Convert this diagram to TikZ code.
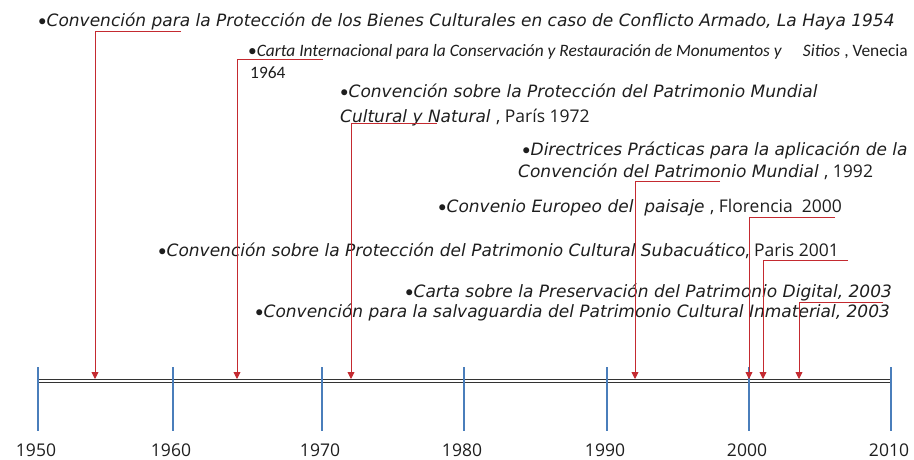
\documentclass[tikz,border=0pt]{standalone}
\usepackage{fontspec}
\usetikzlibrary{arrows.meta}
\newfontfamily\itf{DejaVu Sans}
\newfontfamily\rgf{Open Sans}
\newfontfamily\calf{Carlito}
\definecolor{txt}{HTML}{1E1E1E}
\definecolor{axisc}{HTML}{333333}
\definecolor{tickc}{HTML}{4A7EBB}
\definecolor{arrc}{HTML}{C42A30}
\tikzset{
  lbl/.style={anchor=base west, inner sep=0, text=txt, font=\itf\itshape\fontsize{17}{20}\selectfont},
  lblsmall/.style={anchor=base west, inner sep=0, text=txt, font=\calf\itshape\fontsize{17.4}{20}\selectfont},
  year/.style={anchor=base, inner sep=0, text=txt, font=\rgf\fontsize{17.5}{20}\selectfont},
  tickline/.style={draw=tickc, line width=2.6pt},
  axisline/.style={draw=axisc, line width=1.3pt, double=white, double distance=1.3pt},
  conn/.style={draw=arrc, line width=0.9pt, -{Triangle[length=7pt,width=7pt]}},
}
\newcommand{\rgtext}[1]{{\rgf\upshape\fontsize{17.5}{20}\selectfont #1}}
\newcommand{\bul}{{\calf\upshape •}}
\begin{document}
\begin{tikzpicture}[x=1pt,y=-1pt]
\useasboundingbox (0,0) rectangle (914,460);
% axis
\coordinate (a0) at (38,381);
\coordinate (a1) at (891,381);
\path[axisline] (a0) -- (a1);
% ticks and years
\foreach \x/\yr in {38/1950,173/1960,322/1970,464/1980,607/1990,749/2000,891/2010}{
  \coordinate (t\yr) at (\x,367);
  \coordinate (b\yr) at (\x,431);
  \path[tickline] (t\yr) -- (b\yr);
  \node[year] (y\yr) at (\x-2,456) {\yr};
}
% labels
\node[lbl] (l1) at (38,27) {\bul Convención para la Protección de los Bienes Culturales en caso de Conflicto Armado, La Haya 1954};
\node[lblsmall] (l2) at (248,57) {\bul Carta Internacional para la Conservación y Restauración de Monumentos y\quad\ Sitios\/ {\upshape, Venecia}};
\node[anchor=base west, inner sep=0, text=txt, font=\calf\fontsize{17.4}{20}\selectfont] (l2b) at (250,79) {1964};
\node[lbl] (l3) at (340,98) {\bul Convención sobre la Protección del Patrimonio Mundial};
\node[lbl] (l3b) at (340,122) {Cultural y Natural\/ \rgtext{, París 1972}};
\node[lbl] (l4) at (522,155) {\bul Directrices Prácticas para la aplicación de la};
\node[lbl] (l4b) at (518,177) {Convención del Patrimonio Mundial\/ \rgtext{, 1992}};
\node[lbl] (l5) at (438,212) {\bul Convenio Europeo del\ \ paisaje\/ \rgtext{, Florencia\ \ 2000}};
\node[lbl] (l6) at (158,256) {\bul Convención sobre la Protección del Patrimonio Cultural Subacuático\rgtext{, Paris 2001}};
\node[lbl] (l7) at (405,297) {\bul Carta sobre la Preservación del Patrimonio Digital, 2003};
\node[lbl] (l8) at (255,317) {\bul Convención para la salvaguardia del Patrimonio Cultural Inmaterial, 2003};
% connectors
\foreach \n/\sx/\sy/\ex in {1/181/31/95, 2/323/59/237, 3/437/123/351, 4/720/181/635, 5/835/217/749, 6/848/260/763, 7/883/302/799}{
  \coordinate (s\n) at (\sx,\sy);
  \coordinate (e\n) at (\ex,379);
  \path[conn] (s\n) -| (e\n);
}
\end{tikzpicture}
\end{document}
